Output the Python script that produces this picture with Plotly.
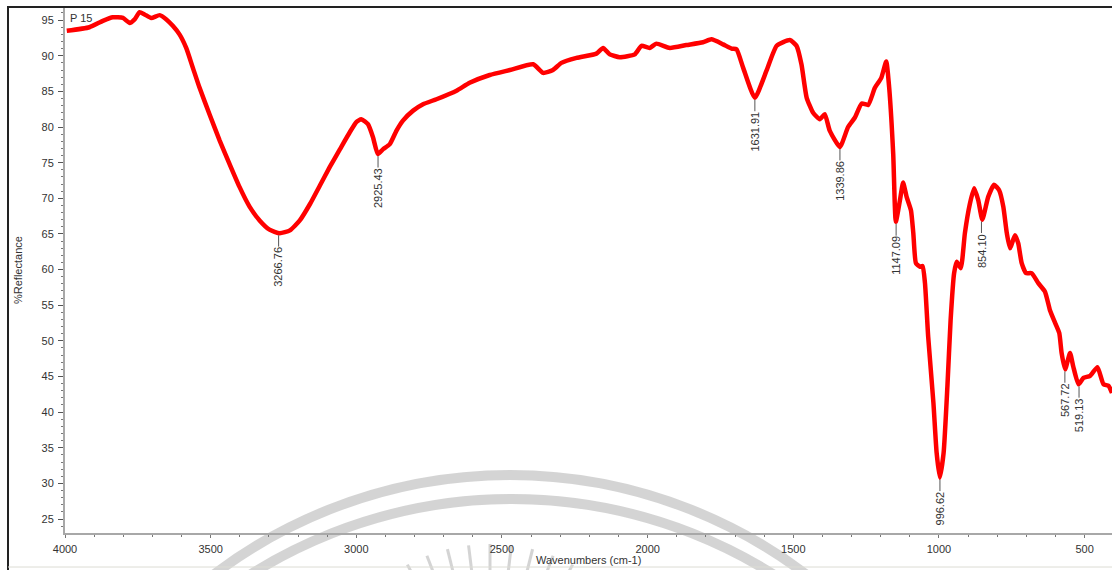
import plotly.graph_objects as go
import math

# ---------------- data ----------------
wavenumber = [3994, 3916, 3870, 3836, 3801, 3778, 3761, 3744, 3727, 3704, 3675, 3652, 3630, 3607,
              3584, 3561, 3538, 3504, 3469, 3435, 3401, 3366, 3332, 3298, 3263, 3228, 3194, 3159,
              3125, 3091, 3056, 3022, 3000, 2983, 2960, 2943, 2926, 2908, 2885, 2862, 2840, 2805,
              2771, 2725, 2656, 2611, 2542, 2473, 2393, 2359, 2325, 2296, 2244, 2176, 2153, 2130,
              2096, 2044, 2021, 1993, 1970, 1924, 1867, 1810, 1781, 1741, 1712, 1695, 1672, 1632,
              1592, 1557, 1512, 1489, 1472, 1454, 1432, 1409, 1392, 1375, 1340, 1312, 1289, 1265,
              1243, 1220, 1198, 1181, 1171, 1157, 1148, 1134, 1123, 1111, 1096, 1088, 1079, 1065,
              1056, 1048, 1037, 1019, 1008, 997, 984, 971, 960, 948, 939, 925, 911, 894, 879, 865,
              851, 831, 811, 793, 779, 767, 756, 739, 728, 716, 701, 682, 659, 636, 619, 601, 587,
              579, 567, 550, 539, 521, 504, 481, 456, 435, 418, 406]
reflectance = [93.5, 94.0, 94.9, 95.4, 95.3, 94.6, 95.1, 96.1, 95.8, 95.3, 95.7, 95.1, 94.2, 93.0,
               91.1, 88.3, 85.5, 81.8, 78.1, 74.8, 71.6, 68.8, 66.9, 65.6, 65.1, 65.5, 66.9, 69.2,
               71.8, 74.4, 76.9, 79.3, 80.7, 81.1, 80.4, 78.6, 76.2, 76.9, 77.6, 79.5, 80.9, 82.3,
               83.2, 83.9, 85.1, 86.2, 87.3, 88.0, 88.8, 87.6, 88.0, 89.0, 89.7, 90.3, 91.1, 90.2,
               89.8, 90.2, 91.4, 91.1, 91.7, 91.1, 91.5, 91.9, 92.3, 91.6, 91.0, 90.9, 88.3, 84.1,
               87.9, 91.4, 92.2, 91.4, 88.8, 84.1, 82.0, 81.1, 81.8, 79.5, 77.2, 80.0, 81.3, 83.3,
               83.1, 85.5, 86.9, 89.2, 85.6, 76.2, 66.7, 69.7, 72.2, 70.2, 68.3, 65.1, 60.9, 60.4,
               60.5, 58.1, 50.6, 41.3, 34.3, 30.8, 34.3, 43.6, 52.9, 59.5, 61.1, 60.2, 65.1, 69.2,
               71.4, 69.7, 67.0, 70.2, 71.9, 71.1, 68.8, 65.1, 63.0, 64.8, 63.7, 60.9, 59.5, 59.5,
               58.1, 56.9, 54.3, 52.5, 51.1, 48.3, 46.0, 48.3, 46.4, 43.9, 44.8, 45.1, 46.3, 43.9,
               43.7, 42.7]

peak_wn = [3266.76, 2925.43, 1631.91, 1339.86, 1147.09, 996.62, 854.10, 567.72, 519.13]
peak_r = [65.1, 76.2, 84.1, 77.2, 66.7, 30.8, 67.0, 46.0, 43.9]
peak_labels = ["3266.76", "2925.43", "1631.91", "1339.86", "1147.09", "996.62", "854.10", "567.72", "519.13"]

sample_name = "P 15"
x_title = "Wavenumbers (cm-1)"
y_title = "%Reflectance"

# ---------------- layout geometry (pixels) ----------------
W, H = 1112, 570
ML, MR, MT, MB = 65, 0, 8, 37
PW, PH = W - ML - MR, H - MT - MB


def px(xp):
    return (xp - ML) / PW


def py(yp):
    return (H - MB - yp) / PH


fig = go.Figure()

fig.add_trace(go.Scatter(
    x=wavenumber, y=reflectance, mode="lines",
    line=dict(color="#ff0000", width=4.5, shape="spline", smoothing=0.5),
    hoverinfo="skip", showlegend=False,
))

annotations = []
for wn, r, lab in zip(peak_wn, peak_r, peak_labels):
    half = (len(lab) * 6.12 - 3) / 2 + 3
    annotations.append(dict(
        x=wn, y=r, xref="x", yref="y", text=lab, textangle=-90,
        showarrow=True, arrowhead=0, arrowwidth=1, arrowcolor="#555555",
        ax=0, ay=11 + half, standoff=2,
        font=dict(family="Liberation Sans, Arial, sans-serif", size=11, color="#333333"),
        borderpad=0,
    ))

annotations.append(dict(x=px(68), y=py(18), xref="paper", yref="paper", text=sample_name,
                        showarrow=False, xanchor="left", yanchor="middle",
                        font=dict(family="Liberation Sans, Arial, sans-serif", size=11, color="#333333")))
annotations.append(dict(x=px(588), y=py(560), xref="paper", yref="paper", text=x_title,
                        showarrow=False, xanchor="center", yanchor="middle",
                        font=dict(family="Liberation Sans, Arial, sans-serif", size=11, color="#333333")))
annotations.append(dict(x=px(18), y=py(270), xref="paper", yref="paper", text=y_title,
                        showarrow=False, textangle=-90, xanchor="center", yanchor="middle",
                        font=dict(family="Liberation Sans, Arial, sans-serif", size=11, color="#333333")))

shapes = []
# watermark arcs
wm = "rgba(205,205,205,0.85)"
for cx, cy, r in [(510, 965, 490), (512, 989, 490)]:
    shapes.append(dict(type="circle", xref="paper", yref="paper",
                       x0=px(cx - r), x1=px(cx + r), y0=py(cy + r), y1=py(cy - r),
                       line=dict(color=wm, width=10), layer="below"))
# watermark rays
for ang in range(-28, 29, 7):
    a = math.radians(ang)
    c0x, c0y = 490, 720
    shapes.append(dict(type="line", xref="paper", yref="paper",
                       x0=px(c0x + 140 * math.sin(a)), y0=py(c0y - 140 * math.cos(a)),
                       x1=px(c0x + 176 * math.sin(a)), y1=py(c0y - 176 * math.cos(a)),
                       line=dict(color=wm, width=3), layer="below"))
# outer frame
shapes.append(dict(type="line", xref="paper", yref="paper", x0=px(7), x1=px(W), y0=py(7), y1=py(7),
                   line=dict(color="#222222", width=2)))
shapes.append(dict(type="line", xref="paper", yref="paper", x0=px(8), x1=px(8), y0=py(7), y1=py(H),
                   line=dict(color="#222222", width=2)))
shapes.append(dict(type="line", xref="paper", yref="paper", x0=px(8), x1=px(W), y0=py(567), y1=py(567),
                   line=dict(color="#dcdcd4", width=1)))

tickfont = dict(family="Liberation Sans, Arial, sans-serif", size=11, color="#333333")

fig.update_layout(
    width=W, height=H,
    margin=dict(l=ML, r=MR, t=MT, b=MB, pad=0),
    paper_bgcolor="white", plot_bgcolor="rgba(0,0,0,0)",
    showlegend=False,
    annotations=annotations,
    shapes=shapes,
    xaxis=dict(
        range=[4000, 406], showgrid=False, zeroline=False,
        showline=True, linecolor="#a8a8a8", linewidth=2,
        tickmode="linear", tick0=500, dtick=500,
        ticks="outside", ticklen=3, tickcolor="#777777", tickwidth=1,
        minor=dict(dtick=100, tick0=0, ticks="outside", ticklen=2, tickcolor="#777777"),
        tickfont=tickfont, ticklabelstandoff=2,
    ),
    yaxis=dict(
        range=[23.04, 96.7], showgrid=False, zeroline=False,
        showline=True, linecolor="#a8a8a8", linewidth=2,
        tickmode="linear", tick0=25, dtick=5,
        ticks="outside", ticklen=5, tickcolor="#555555", tickwidth=1,
        minor=dict(dtick=1, tick0=0, ticks="outside", ticklen=2, tickcolor="#777777"),
        tickfont=tickfont, ticklabelstandoff=2,
    ),
)

fig.write_html(
    "out.html",
    config={"displayModeBar": False, "staticPlot": True},
    post_script="document.body.style.margin='0px';document.body.style.overflow='hidden';",
)
